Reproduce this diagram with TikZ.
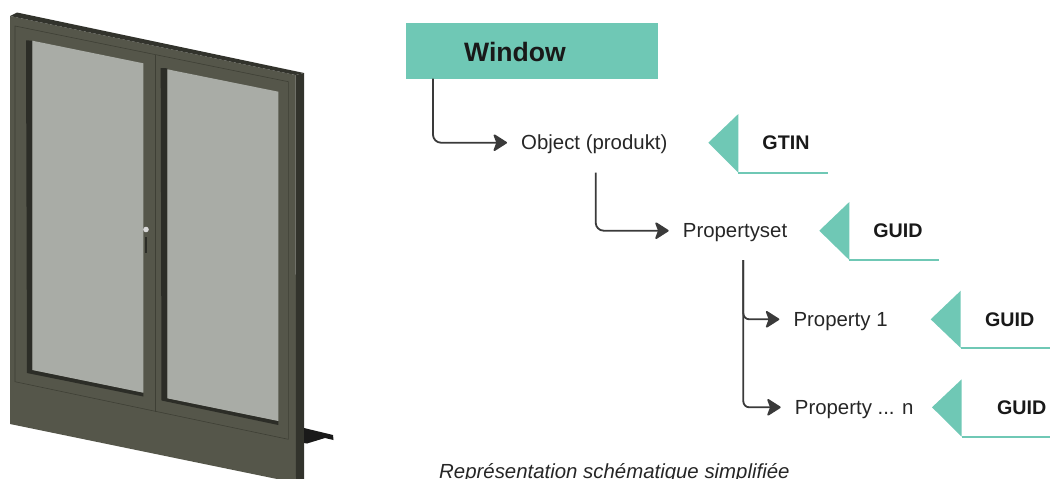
\documentclass[tikz,border=0pt]{standalone}
\usepackage{fontspec}
\setmainfont{Liberation Sans}
\usetikzlibrary{arrows.meta}
\definecolor{teal1}{HTML}{6FC8B5}
\definecolor{frameC}{HTML}{55564A}
\definecolor{frameL}{HTML}{3E3F35}
\definecolor{glassC}{HTML}{A9ACA6}
\definecolor{darkC}{HTML}{2C2D27}
\definecolor{lineC}{HTML}{3A3A3A}
\tikzset{
  lbl/.style={anchor=west,inner xsep=14pt,inner ysep=0pt,text height=14.3pt,text depth=0pt,font=\fontsize{20.4}{24}\selectfont,text=black!85},
  taglbl/.style={inner sep=0pt,text height=14.3pt,text depth=0pt,font=\fontsize{19.7}{24}\selectfont\bfseries,text=black!90},
  tagtri/.style={fill=teal1},
  tagline/.style={draw=teal1,line width=1.8pt},
  conn/.style={draw=lineC,line width=1.8pt,rounded corners=8pt,-{Stealth[length=15pt,width=19pt,inset=3.5pt,fill=lineC,round=false]}},
  frameline/.style={draw=frameL,line width=0.6pt}
}
\begin{document}
\begin{tikzpicture}[x=1pt,y=-1pt]
\useasboundingbox (0,0) rectangle (1050,479);
\clip (0,0) rectangle (1050,479);
% window
\fill[frameC] (10,16) -- (295.5,75) -- (296,479) -- (277,479) -- (10,424) -- cycle;
\fill[darkC!85!frameC] (10,16) -- (17,12.5) -- (304,73) -- (295.5,75) -- cycle;
\fill[darkC!85!frameC] (295.5,75) -- (304,73) -- (304,479) -- (296,479) -- cycle;
\draw[frameline] (15,26) -- (288.3,81.7) -- (288.3,439.3) -- (15,381.7) -- cycle;
\draw[frameline] (155,55) -- (155,412);
\fill[darkC] (26,40.3) -- (32.3,40.7) -- (32.3,370) -- (143.3,392.7) -- (143.3,396.5) -- (27,373) -- cycle;
\fill[darkC] (160.7,68) -- (167.3,68.3) -- (167.3,398.3) -- (278.3,421) -- (278.3,425) -- (161.5,400.5) -- cycle;
\fill[glassC] (32.3,40.7) -- (143.3,63.3) -- (143.3,392.7) -- (32.3,370) -- cycle;
\fill[glassC] (167.3,69.3) -- (278.3,91.7) -- (278.3,421) -- (167.3,398.3) -- cycle;
% handle
\fill[darkC] (145,236.5) rectangle (146.8,253);
\fill[black!15] (146,229.5) circle (2.8);
% sill
\fill[black!90] (304,428) -- (333,435) -- (333.5,440) -- (325,438) -- (307,443.5) -- (304,443) -- cycle;
% diagram
\fill[teal1] (406,23.3) rectangle (658,78.7);
\node[inner sep=0pt,text height=19pt,text depth=0pt,font=\fontsize{26.6}{30}\selectfont\bfseries,text=black!90] (win) at (515,51.7) {Window};
\node[lbl] (obj) at (507,142.7) {Object (produkt)};
\node[lbl] (pset) at (668.7,230.7) {Propertyset};
\node[lbl] (p1) at (779.3,319.3) {Property 1};
\node[lbl] (pn) at (780.7,407.3) {Property ... n};
\coordinate (c1) at (433,78.7);
\coordinate (c2) at (595.7,172.7);
\coordinate (c3) at (743.3,260);
\draw[conn] (c1) |- (obj.west);
\draw[conn] (c2) |- (pset.west);
\draw[conn,rounded corners=6pt] (c3) |- (p1.west);
\draw[conn,rounded corners=6pt] (c3) |- (pn.west);
% tags
\fill[tagtri] (708.3,142.7) -- (738.3,114) -- (738.3,172.7) -- cycle;
\draw[tagline] (738.3,172.7) -- (828.3,172.7);
\node[taglbl] (t1) at (786,142.7) {GTIN};
\fill[tagtri] (819.3,230.7) -- (849.3,202) -- (849.3,260) -- cycle;
\draw[tagline] (849.3,260) -- (939.3,260);
\node[taglbl] (t2) at (898,230.7) {GUID};
\fill[tagtri] (930.7,319.3) -- (960.7,290.7) -- (960.7,348) -- cycle;
\draw[tagline] (960.7,348) -- (1050,348);
\node[taglbl] (t3) at (1009.7,319.3) {GUID};
\fill[tagtri] (932,407.3) -- (961.7,379.3) -- (961.7,436.7) -- cycle;
\draw[tagline] (961.7,436.7) -- (1050,436.7);
\node[taglbl] (t4) at (1021.7,407.3) {GUID};
\node[anchor=base west,inner sep=0pt,font=\fontsize{20.4}{24}\selectfont\itshape,text=black!85] (cap) at (439,478.3) {Représentation schématique simplifiée};
\end{tikzpicture}
\end{document}
